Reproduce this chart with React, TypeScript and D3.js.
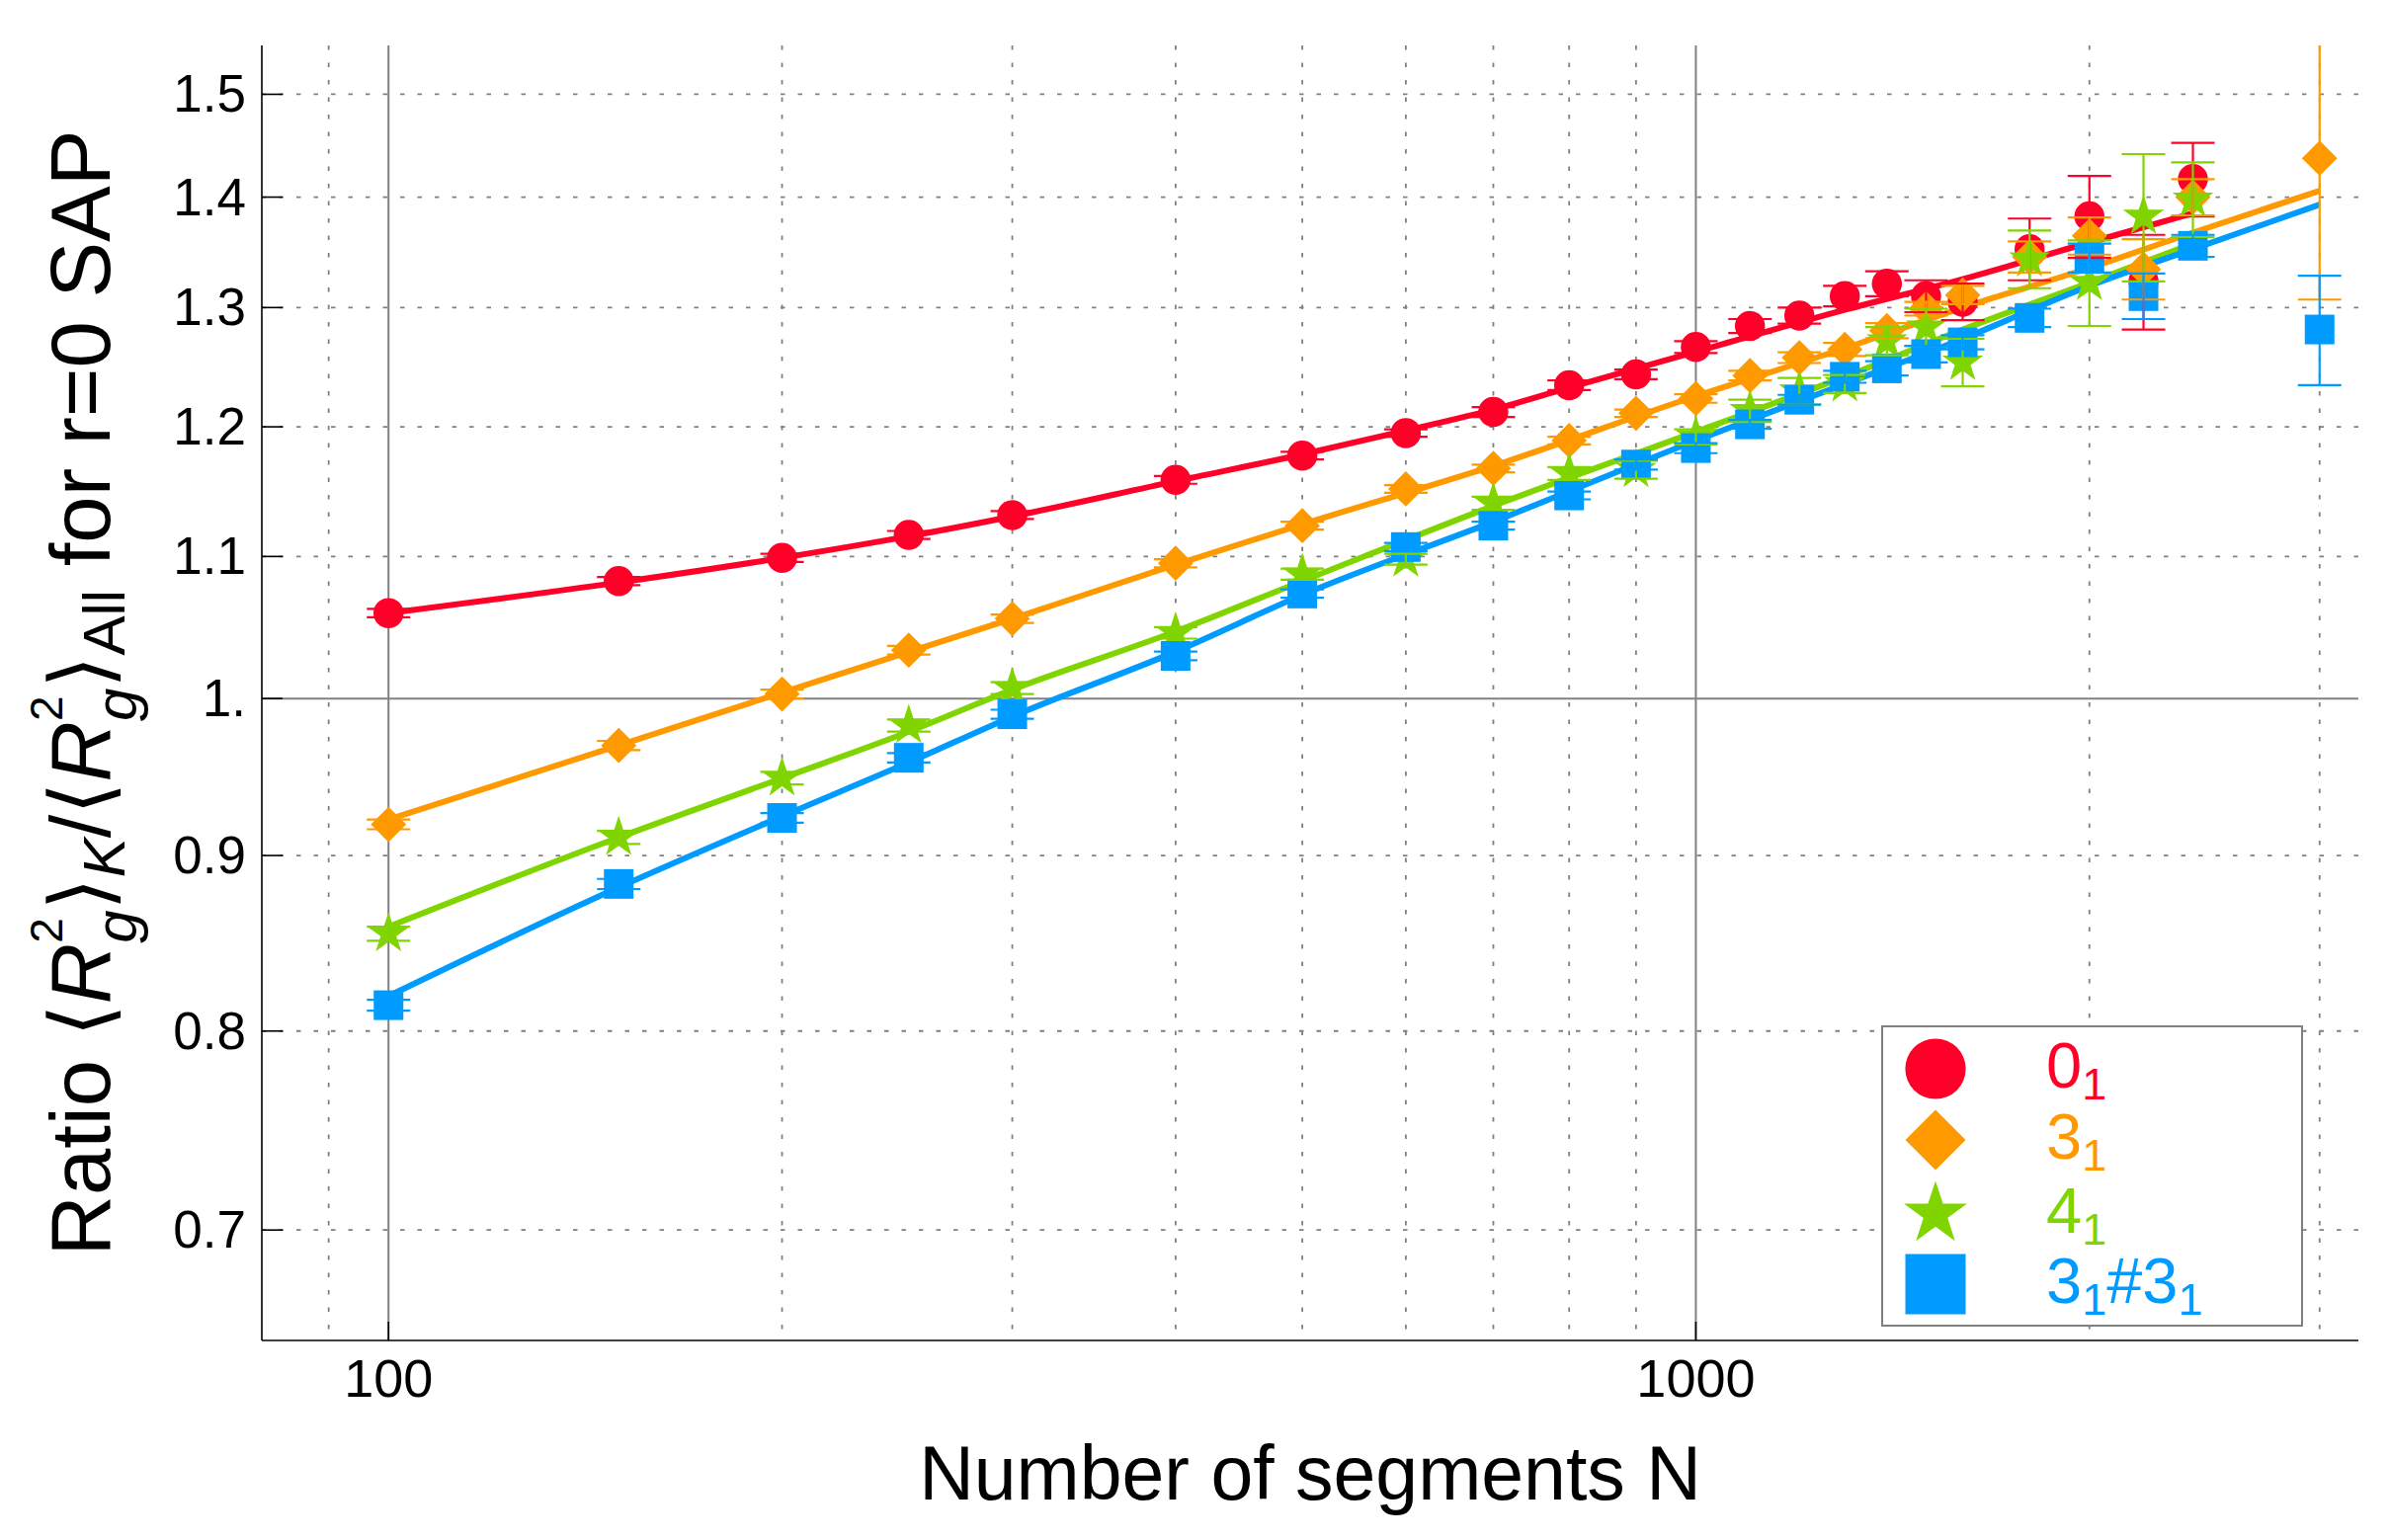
import { useRef, useEffect } from 'react';
import * as d3 from 'd3';

// chain lengths
const N = [100, 150, 200, 250, 300, 400, 500, 600, 700, 800, 900, 1000, 1100, 1200, 1300, 1400, 1500, 1600, 1800, 2000, 2200, 2400, 3000];

// measured ratios (null = no point)
const UNKNOT = [1.059, 1.082, 1.099, 1.116, 1.131, 1.158, 1.177, 1.195, 1.212, 1.234, 1.243, 1.266, 1.284, 1.293, 1.310, 1.321, 1.310, 1.305, 1.352, 1.382, 1.323, 1.417, null];
const UNKNOT_ERR = [0.003, 0.003, 0.003, 0.003, 0.003, 0.003, 0.003, 0.003, 0.004, 0.004, 0.004, 0.005, 0.006, 0.007, 0.009, 0.011, 0.014, 0.016, 0.028, 0.038, 0.042, 0.035, null];

const TREFOIL = [0.919, 0.969, 1.003, 1.033, 1.055, 1.095, 1.123, 1.151, 1.167, 1.189, 1.211, 1.223, 1.242, 1.257, 1.264, 1.280, 1.299, 1.311, 1.345, 1.364, 1.334, 1.400, 1.437];
const TREFOIL_ERR = [0.003, 0.003, 0.003, 0.003, 0.003, 0.003, 0.003, 0.003, 0.003, 0.003, 0.003, 0.0035, 0.004, 0.0045, 0.0055, 0.0065, 0.006, 0.008, 0.014, 0.017, 0.027, 0.017, 0.13];

const FIGURE8 = [0.854, 0.911, 0.948, 0.982, 1.007, 1.045, 1.087, 1.098, 1.140, 1.163, 1.166, 1.192, 1.213, 1.229, 1.235, 1.271, 1.283, 1.253, 1.343, 1.322, 1.382, 1.398, null];
const FIGURE8_ERR = [0.004, 0.004, 0.004, 0.004, 0.004, 0.004, 0.004, 0.004, 0.005, 0.005, 0.007, 0.006, 0.009, 0.011, 0.0075, 0.012, 0.016, 0.02, 0.026, 0.038, 0.059, 0.035, null];

const GRANNY = [0.814, 0.883, 0.923, 0.961, 0.9895, 1.029, 1.073, 1.107, 1.123, 1.146, 1.170, 1.183, 1.202, 1.222, 1.241, 1.248, 1.260, 1.270, 1.291, 1.344, 1.310, 1.355, 1.281];
const GRANNY_ERR = [0.003, 0.003, 0.003, 0.003, 0.003, 0.003, 0.003, 0.003, 0.003, 0.003, 0.004, 0.004, 0.0035, 0.004, 0.005, 0.006, 0.007, 0.006, 0.008, 0.013, 0.02, 0.01, 0.047];

// fitted curves
const UNKNOT_FIT_N = [100, 150, 200, 250, 300, 400, 500, 600, 700, 800, 1000, 1300, 1600, 2000, 2400];
const UNKNOT_FIT = [1.059, 1.081, 1.099, 1.115, 1.130, 1.157, 1.178, 1.197, 1.214, 1.232, 1.262, 1.298, 1.325, 1.358, 1.385];
const TREFOIL_FIT_N = [100, 150, 200, 300, 400, 500, 700, 1000, 1300, 1600, 2000, 2400, 3000];
const TREFOIL_FIT = [0.922, 0.969, 1.004, 1.055, 1.094, 1.124, 1.169, 1.225, 1.265, 1.300, 1.335, 1.367, 1.406];
const FIGURE8_FIT_N = [100, 150, 200, 250, 300, 400, 500, 700, 1000, 1300, 1600, 2000, 2400];
const FIGURE8_FIT = [0.858, 0.911, 0.948, 0.978, 1.006, 1.046, 1.082, 1.138, 1.196, 1.241, 1.281, 1.322, 1.357];
const GRANNY_FIT_N = [100, 150, 200, 250, 300, 400, 500, 700, 1000, 1300, 1600, 2000, 2400, 3000];
const GRANNY_FIT = [0.819, 0.881, 0.924, 0.958, 0.988, 1.032, 1.072, 1.126, 1.189, 1.235, 1.273, 1.319, 1.352, 1.393];

const Y_TICKS = [0.7, 0.8, 0.9, 1.0, 1.1, 1.2, 1.3, 1.4, 1.5];
const Y_TICK_LABELS = ['0.7', '0.8', '0.9', '1.', '1.1', '1.2', '1.3', '1.4', '1.5'];
const X_TICKS = [100, 1000];
const X_DOTTED = [90, 200, 300, 400, 500, 600, 700, 800, 900, 2000, 3000];

const FONT = "'Liberation Sans', Arial, sans-serif";
const GRID = '#808080';

const SERIES = [
  { key: 'unknot', label: ['0', '1'], values: UNKNOT, errors: UNKNOT_ERR, fitN: UNKNOT_FIT_N, fit: UNKNOT_FIT, color: '#FF0028', symbol: d3.symbolCircle, size: 730, legendSize: 2942, rotate: 0 },
  { key: 'trefoil', label: ['3', '1'], values: TREFOIL, errors: TREFOIL_ERR, fitN: TREFOIL_FIT_N, fit: TREFOIL_FIT, color: '#FF9900', symbol: d3.symbolSquare, size: 640, legendSize: 1860, rotate: 45 },
  { key: 'figure8', label: ['4', '1'], values: FIGURE8, errors: FIGURE8_ERR, fitN: FIGURE8_FIT_N, fit: FIGURE8_FIT, color: '#80D400', symbol: d3.symbolStar, size: 540, legendSize: 1267, rotate: 0 },
  { key: 'granny', label: ['3', '1', '#3', '1'], values: GRANNY, errors: GRANNY_ERR, fitN: GRANNY_FIT_N, fit: GRANNY_FIT, color: '#009BFF', symbol: d3.symbolSquare, size: 900, legendSize: 3721, rotate: 0 },
];

export default function App() {
  const svgRef = useRef<SVGSVGElement>(null);

  useEffect(() => {
    if (!svgRef.current) return;
    const width = 2418;
    const height = 1559;
    const plot = { left: 265, right: 2387, top: 46, bottom: 1357 };

    const svg = d3.select(svgRef.current);
    svg.selectAll('*').remove();
    svg.attr('width', width).attr('height', height).attr('viewBox', `0 0 ${width} ${height}`);

    const x = d3.scaleLog().domain([80, 3212]).range([plot.left, plot.right]);
    const y = d3.scaleLog().domain([0.65, 1.55]).range([plot.bottom, plot.top]);

    svg.append('defs').append('clipPath').attr('id', 'plot-clip')
      .append('rect')
      .attr('x', plot.left).attr('y', plot.top)
      .attr('width', plot.right - plot.left).attr('height', plot.bottom - plot.top);

    // Grid
    const grid = svg.append('g');
    grid.selectAll('line.vd')
      .data(X_DOTTED)
      .join('line')
      .attr('x1', d => x(d)).attr('x2', d => x(d))
      .attr('y1', plot.top).attr('y2', plot.bottom)
      .attr('stroke', GRID).attr('stroke-width', 1.8).attr('stroke-dasharray', '4.5,13');
    grid.selectAll('line.hd')
      .data(Y_TICKS.filter(d => d !== 1))
      .join('line')
      .attr('x1', plot.left).attr('x2', plot.right)
      .attr('y1', d => y(d)).attr('y2', d => y(d))
      .attr('stroke', GRID).attr('stroke-width', 1.8).attr('stroke-dasharray', '4.5,13');
    grid.selectAll('line.vs')
      .data(X_TICKS)
      .join('line')
      .attr('x1', d => x(d)).attr('x2', d => x(d))
      .attr('y1', plot.top).attr('y2', plot.bottom)
      .attr('stroke', GRID).attr('stroke-width', 2);
    grid.append('line')
      .attr('x1', plot.left).attr('x2', plot.right)
      .attr('y1', y(1)).attr('y2', y(1))
      .attr('stroke', GRID).attr('stroke-width', 2);

    const body = svg.append('g').attr('clip-path', 'url(#plot-clip)');

    // Fitted curves
    SERIES.forEach(s => {
      const pts = s.fitN.map((n, i) => [n, s.fit[i]] as [number, number]);
      body.append('path')
        .datum(pts)
        .attr('fill', 'none')
        .attr('stroke', s.color)
        .attr('stroke-width', 6)
        .attr('stroke-linejoin', 'round')
        .attr('d', d3.line<[number, number]>()
          .x(d => x(d[0]))
          .y(d => y(d[1]))
          .curve(d3.curveMonotoneX));
    });

    // Markers
    SERIES.forEach(s => {
      const pts = N.map((n, i) => ({ n, v: s.values[i], e: s.errors[i] })).filter(d => d.v != null);
      body.selectAll(null)
        .data(pts)
        .join('path')
        .attr('d', d3.symbol().type(s.symbol).size(s.size)())
        .attr('transform', d => `translate(${x(d.n)},${y(d.v as number)}) rotate(${s.rotate})`)
        .attr('fill', s.color);
    });

    // Error bars on top
    SERIES.forEach(s => {
      const pts = N.map((n, i) => ({ n, v: s.values[i] as number, e: s.errors[i] as number })).filter(d => d.v != null);
      const g = body.append('g').attr('stroke', s.color).attr('stroke-width', 2.2);
      g.selectAll('line.bar')
        .data(pts)
        .join('line')
        .attr('x1', d => x(d.n)).attr('x2', d => x(d.n))
        .attr('y1', d => y(d.v + d.e)).attr('y2', d => y(d.v - d.e));
      g.selectAll('line.top')
        .data(pts)
        .join('line')
        .attr('x1', d => x(d.n) - 22).attr('x2', d => x(d.n) + 22)
        .attr('y1', d => y(d.v + d.e)).attr('y2', d => y(d.v + d.e));
      g.selectAll('line.bot')
        .data(pts)
        .join('line')
        .attr('x1', d => x(d.n) - 22).attr('x2', d => x(d.n) + 22)
        .attr('y1', d => y(d.v - d.e)).attr('y2', d => y(d.v - d.e));
    });

    // Axes
    const axes = svg.append('g').attr('stroke', '#000').attr('stroke-width', 1.6);
    axes.append('line').attr('x1', plot.left).attr('x2', plot.left).attr('y1', plot.top).attr('y2', plot.bottom);
    axes.append('line').attr('x1', plot.left).attr('x2', plot.right).attr('y1', plot.bottom).attr('y2', plot.bottom);
    axes.selectAll('line.yt')
      .data(Y_TICKS)
      .join('line')
      .attr('x1', plot.left).attr('x2', plot.left + 21)
      .attr('y1', d => y(d)).attr('y2', d => y(d));
    axes.selectAll('line.xt')
      .data(X_TICKS)
      .join('line')
      .attr('x1', d => x(d)).attr('x2', d => x(d))
      .attr('y1', plot.bottom).attr('y2', plot.bottom - 19);

    svg.append('g')
      .selectAll('text')
      .data(Y_TICKS)
      .join('text')
      .attr('x', plot.left - 16)
      .attr('y', d => y(d) + 18)
      .attr('text-anchor', 'end')
      .attr('font-family', FONT).attr('font-size', 53)
      .text((d, i) => Y_TICK_LABELS[i]);

    svg.append('g')
      .selectAll('text')
      .data(X_TICKS)
      .join('text')
      .attr('x', d => x(d))
      .attr('y', 1414)
      .attr('text-anchor', 'middle')
      .attr('font-family', FONT).attr('font-size', 54)
      .text(d => String(d));

    // Axis labels
    svg.append('text')
      .attr('x', (plot.left + plot.right) / 2)
      .attr('y', 1518)
      .attr('text-anchor', 'middle')
      .attr('font-family', FONT).attr('font-size', 77)
      .text('Number of segments N');

    const yl = svg.append('text')
      .attr('transform', `translate(111,${(plot.top + plot.bottom) / 2}) rotate(-90)`)
      .attr('text-anchor', 'middle')
      .attr('font-family', FONT).attr('font-size', 85);
    const part = (t: string, opts: { size?: number; italic?: boolean; dx?: number; dy?: number; family?: string } = {}) => {
      const ts = yl.append('tspan').text(t);
      if (opts.size) ts.attr('font-size', opts.size);
      if (opts.italic) ts.attr('font-style', 'italic');
      if (opts.dx) ts.attr('dx', opts.dx);
      if (opts.dy) ts.attr('dy', opts.dy);
      if (opts.family) ts.attr('font-family', opts.family);
    };
    const rg = () => {
      part('\u27E8', { family: "'DejaVu Sans', sans-serif" });
      part('R', { italic: true });
      part('2', { size: 46, dy: -48 });
      part('g', { size: 60, italic: true, dx: -25.6, dy: 75 });
      part('\u27E9', { family: "'DejaVu Sans', sans-serif", dy: -27 });
    };
    part('Ratio ');
    rg();
    part('K', { size: 60, italic: true, dy: 15 });
    part('/', { dy: -15 });
    rg();
    part('All', { size: 60, dy: 15 });
    part(' for r=0 SAP', { dy: -15 });

    // Legend
    const lg = svg.append('g');
    lg.append('rect')
      .attr('x', 1905).attr('y', 1039)
      .attr('width', 425).attr('height', 303)
      .attr('fill', '#fff').attr('stroke', GRID).attr('stroke-width', 2);
    const rowY = [1082, 1154, 1229, 1300];
    SERIES.forEach((s, i) => {
      lg.append('path')
        .attr('d', d3.symbol().type(s.symbol).size(s.legendSize)())
        .attr('transform', `translate(1959,${rowY[i]}) rotate(${s.rotate})`)
        .attr('fill', s.color);
      const t = lg.append('text')
        .attr('x', 2071).attr('y', rowY[i] + 19)
        .attr('fill', s.color)
        .attr('font-family', FONT).attr('font-size', 65);
      s.label.forEach((piece, j) => {
        const sub = j % 2 === 1;
        t.append('tspan')
          .attr('font-size', sub ? 45 : 65)
          .attr('dy', j === 0 ? 0 : sub ? 12 : -12)
          .text(piece);
      });
    });
  }, []);

  return <svg ref={svgRef} style={{ position: 'absolute', left: 0, top: 0, background: '#fff' }} />;
}
